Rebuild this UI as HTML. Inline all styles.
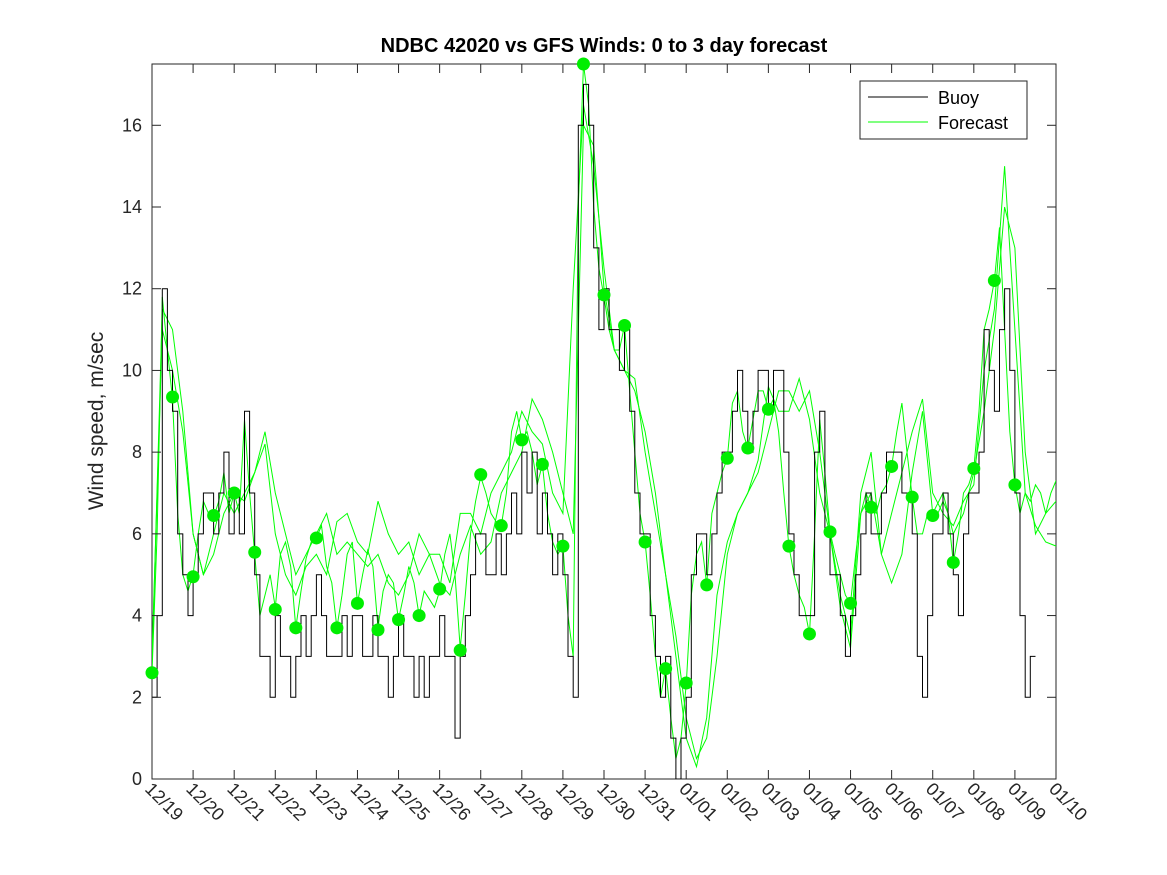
<!DOCTYPE html>
<html><head><meta charset="utf-8"><style>
html,body{margin:0;padding:0;background:#fff;}
svg{display:block;font-family:"Liberation Sans",sans-serif;}
</style></head><body>
<svg id="chart" width="1167" height="875" viewBox="0 0 1167 875">
<defs><clipPath id="clip"><rect x="152" y="64" width="904" height="715"/></clipPath></defs>
<rect x="0" y="0" width="1167" height="875" fill="#fff"/>
<rect x="152" y="64" width="904" height="715" fill="#fff" stroke="#262626" stroke-width="1"/>
<g id="series" clip-path="url(#clip)"></g>
<g id="dotsg"></g>
<g id="axes"></g>
<text x="604" y="52" text-anchor="middle" font-size="20" font-weight="bold" fill="#000">NDBC 42020 vs GFS Winds: 0 to 3 day forecast</text>
<text transform="translate(103,421) rotate(-90)" text-anchor="middle" font-size="21" fill="#262626">Wind speed, m/sec</text>
<g>
<rect x="860" y="81" width="167" height="58" fill="#fff" stroke="#262626" stroke-width="1"/>
<line x1="868" y1="97" x2="928" y2="97" stroke="#000" stroke-width="1"/>
<text x="938" y="104" font-size="18" fill="#000">Buoy</text>
<line x1="868" y1="122" x2="928" y2="122" stroke="#00ff00" stroke-width="1"/>
<text x="938" y="129" font-size="18" fill="#000">Forecast</text>
</g>
</svg>
<script>
const xTickLabels=["12/19","12/20","12/21","12/22","12/23","12/24","12/25","12/26","12/27","12/28","12/29","12/30","12/31","01/01","01/02","01/03","01/04","01/05","01/06","01/07","01/08","01/09","01/10"];
const yTicks=[0,2,4,6,8,10,12,14,16];
const buoy=[2,4,12,10, 9,6,5,4, 5,6,7,7, 6,7,8,6, 7,6,9,7, 5,3,3,2, 4,3,3,2, 3,4,3,4, 5,4,3,3, 3,4,3,4, 4,3,3,4, 3,3,2,3, 4,3,3,2, 3,2,3,3, 4,3,3,1, 3,4,5,6, 6,5,5,6, 5,6,7,6, 8,7,8,6, 7,6,5,6, 5,3,2,16, 17,16,13,11, 12,11,11,10, 11,9,7,6, 6,4,3,2, 3,1,0,1, 2,5,6,6, 5,6,7,8, 8,9,10,9, 8,9,10,10, 9,10,10,8, 6,5,4,4, 4,8,9,6, 5,5,4,3, 4,5,6,7, 6,6,7,8, 8,8,7,7, 6,3,2,4, 6,6,7,6, 5,4,6,7, 7,8,11,10, 9,11,12,10, 7,4,2,3];
const forecastA=[2.6,6,11.8,10.5, 9.3,6.5,5,4.6, 5,6,6.8,6.5, 6.4,6.8,7.5,6.5, 7,6.5,8.8,7, 5.5,4,4.5,5, 4.2,5.5,5.8,5.2, 3.7,4.6,5.4,5.8, 5.9,6.2,5.2,4.8, 3.7,4.5,5.5,5.8, 4.3,5,5.6,5.2, 3.7,4.6,5,4.8, 3.9,4.5,5.2,4.8, 4,4.6,4.4,4.2, 4.6,5.5,6,5, 3.2,4.5,6,6.8, 7.4,7,6.5,6.3, 6.2,7,8.5,9, 8.3,8.5,8,7.2, 7.7,6.5,5.8,5.5, 5.7,4,3,14, 17.5,16.5,14,12.5, 11.8,11,10.5,10.5, 11.1,9.5,8,6.5, 5.8,4.5,3,2, 2.7,1.5,0.5,1, 2.3,4.5,5.5,5.8, 4.75,6.5,7,7.5, 7.85,9.2,9.5,8.5, 8.1,8.8,9.5,9.5, 9.05,9.3,8.5,7, 5.7,5,4.5,4.2, 3.55,6,8.8,7.5, 6.05,5.5,5,4.5, 4.3,5.5,6.5,7, 6.65,6.5,7,7.2, 7.65,8.5,9.2,8, 6.9,6,6,6.5, 6.45,6.5,6.8,6.5, 5.3,6,7,7.2, 7.6,9,11,11.5, 12.2,13.5,11,8.5, 7.2,6.5,7,6.8, 7.2,7,6.5,7,7.3];
const forecastB=[3,11,10,8.5, 6,5,6,7, 6.5,7,7.5,8.5, 7,6,5,5.5, 6,6.5,5.5,5.8, 5.5,5.2,5.5,4.8, 4.5,5,6,5.5, 5.5,4.8,6.5,6.5, 6,7,7.5,8, 9,8.5,8.2,7, 6.5,12, 16.5,15,12.5,10.5, 10,9.5,8.5,7, 5,3.5,1.5,0.5, 1,3,5.5,6.5, 7,7.5,8.5,9.5, 9.5,9,9.5,8, 6,4.5,3.5,7, 8,5.5,4.8,5.5, 7.5,9, 6.5,7, 6,6.5,7.5,9, 11,14,13,8, 6,6.5,6.8,7,6.5,7];
const forecastC=[2.8,11.5,11,9, 6,5,5.5,6.5, 7,6.8,7.5,8.2, 6,5,4.5,5.2, 5.5,5,6.3,6.5, 5.8,5.5,6.8,6, 5.5,5.8,5,5.5, 4.8,4.5,5.5,6.2, 5.5,5.8,7,7.5, 8,9.3,8.8,8, 7,6, 16,15.5,12,10.5, 10,9.8,8,6.5, 5,3,1,0.3, 1.5,4.5,5.8,6.5, 7,7.8,9.6,9, 9,9.8,8.8,7, 6,4.2,3.2,6.5, 7,5.5, 6.5,7.5,8.5,9.3, 7,6.5, 6.2,6.8,7.2,10, 11.5,15,11,7, 6.2,5.8,5.7,6,5.7];
const dots=[2.6,9.35,4.95,6.45,7.0,5.55,4.15,3.7,5.9,3.7,4.3,3.65,3.9,4.0,4.65,3.15,7.45,6.2,8.3,7.7,5.7,17.5,11.85,11.1,5.8,2.7,2.35,4.75,7.85,8.1,9.05,5.7,3.55,6.05,4.3,6.65,7.65,6.9,6.45,5.3,7.6,12.2,7.2];

const X0=152,X1=1056,Y0=779,YT=64,DAYS=22,YMAX=17.5;
function xs(d){return X0+(X1-X0)*d/DAYS;}
function ys(v){return Y0-(Y0-YT)*v/YMAX;}
const NS="http://www.w3.org/2000/svg";
const series=document.getElementById('series');
const dotsg=document.getElementById('dotsg');
const axes=document.getElementById('axes');
function mk(tag,attrs,parent){const e=document.createElementNS(NS,tag);for(const k in attrs)e.setAttribute(k,attrs[k]);parent.appendChild(e);return e;}

function lineFrom(arr,step,name){
  let d='';
  arr.forEach((v,i)=>{d+=(i?'L':'M')+xs(i*step).toFixed(1)+','+ys(v).toFixed(1);});
  const p=mk('path',{d:d,fill:'none',stroke:'#00ff00','stroke-width':1},series);
  
  
}
lineFrom(forecastA,0.125,'forecast-line-a');
lineFrom(forecastB,0.25,'forecast-line-b');
lineFrom(forecastC,0.25,'forecast-line-c');

(function(){
  let d='';const st=0.125;
  buoy.forEach((v,i)=>{
    const x0=xs(i*st),x1=xs((i+1)*st);
    d+=(i?'L':'M')+x0.toFixed(1)+','+ys(v).toFixed(1)+'L'+x1.toFixed(1)+','+ys(v).toFixed(1);
  });
  const p=mk('path',{d:d,fill:'none',stroke:'#000','stroke-width':1},series);
  
  
})();

dots.forEach((v,i)=>{
  const c=mk('circle',{cx:xs(i*0.5),cy:ys(v),r:6.5,fill:'#00ee00'},dotsg);
  
  
});

yTicks.forEach(v=>{
  const y=ys(v);
  mk('line',{x1:X0,y1:y,x2:X0+9,y2:y,stroke:'#262626'},axes);
  mk('line',{x1:X1,y1:y,x2:X1-9,y2:y,stroke:'#262626'},axes);
  const t=mk('text',{x:X0-10,y:y+6,'text-anchor':'end','font-size':18,fill:'#262626'},axes);
  t.textContent=v;
  
  
});
xTickLabels.forEach((lab,i)=>{
  const x=xs(i);
  mk('line',{x1:x,y1:Y0,x2:x,y2:Y0-9,stroke:'#262626'},axes);
  mk('line',{x1:x,y1:YT,x2:x,y2:YT+9,stroke:'#262626'},axes);
  const t=mk('text',{transform:'translate('+(x-8)+','+(Y0+11)+') rotate(45)','font-size':18,fill:'#262626'},axes);
  t.textContent=lab;
  
  
});
</script>
</body></html>
